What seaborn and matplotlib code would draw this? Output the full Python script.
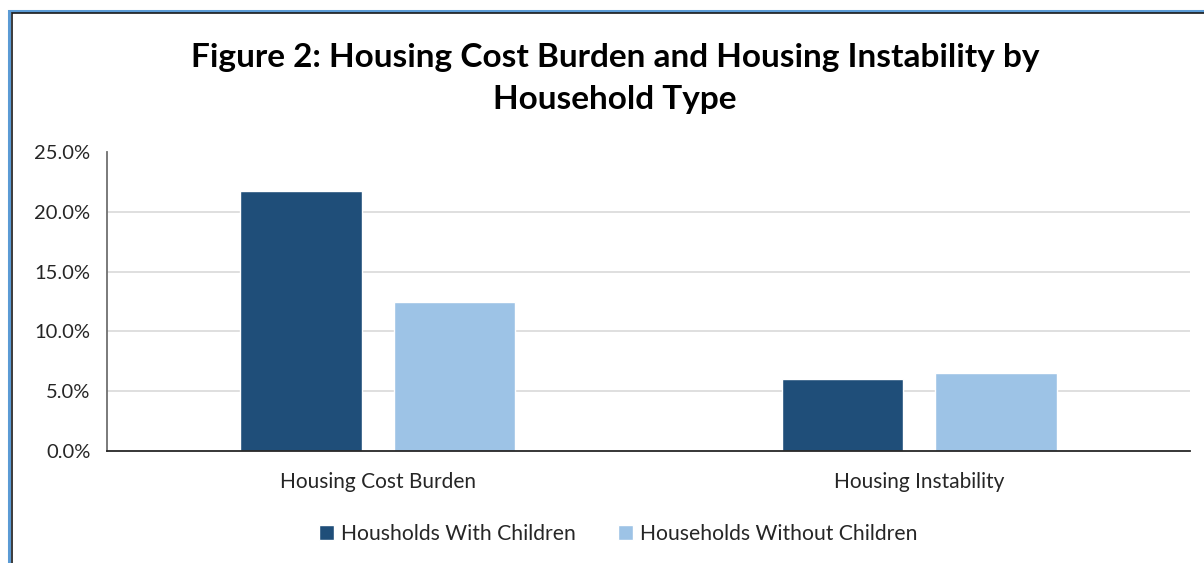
import matplotlib
matplotlib.use("Agg")
import matplotlib.pyplot as plt
import matplotlib.patches as mpatches
import matplotlib.ticker as mticker
import seaborn as sns
import pandas as pd

categories = ["Housing Cost Burden", "Housing Instability"]
series_names = ["Housholds With Children", "Households Without Children"]
with_children = [21.7, 6.0]
without_children = [12.5, 6.55]
colors = ["#1F4E79", "#9DC3E6"]
yticks = [0, 5, 10, 15, 20, 25]

df = pd.DataFrame({
    "category": categories * 2,
    "series": [series_names[0]] * 2 + [series_names[1]] * 2,
    "value": with_children + without_children,
})

sns.set_theme(style="white")
plt.rcParams['font.family'] = ['Lato', 'DejaVu Sans']

fig = plt.figure(figsize=(12.04, 5.63), dpi=100)
ax = fig.add_axes([107/1204, 1-451/563, (1190-107)/1204, (451-152)/563])

sns.barplot(data=df, x="category", y="value", hue="series", palette=colors,
            width=0.568, gap=0.21, ax=ax, saturation=1, legend=True)

ax.set_xlim(-0.5, 1.5)
ax.set_ylim(0, 25)
ax.set_yticks(yticks)
ax.yaxis.set_major_formatter(mticker.FuncFormatter(lambda v, p: f"{v:.1f}%"))
for y in yticks[1:-1]:
    ax.axhline(y, color="#D9D9D9", lw=1.2, zorder=0)
ax.set_axisbelow(True)
ax.set_xlabel("")
ax.set_ylabel("")
ax.tick_params(axis="y", length=0, labelsize=14.5, colors="#262626", pad=12)
ax.tick_params(axis="x", length=0, labelsize=15, colors="#262626", pad=15)
for s in ["top", "right"]:
    ax.spines[s].set_visible(False)
ax.spines["left"].set_color("#6f6f6f")
ax.spines["left"].set_linewidth(1.3)
ax.spines["bottom"].set_color("#262626")
ax.spines["bottom"].set_linewidth(1.3)

leg = ax.legend(loc="center", bbox_to_anchor=(0.5 - 30/1083, -(534-451)/(451-152)), ncol=2,
                frameon=False, fontsize=15.2, handlelength=0.7, handleheight=0.7,
                handletextpad=0.35, columnspacing=2.0, bbox_transform=ax.transAxes)
for t in leg.get_texts():
    t.set_color("#262626")

fig.text(615/1204, 1-57/563, "Figure 2: Housing Cost Burden and Housing Instability by",
         ha="center", va="center", fontsize=24, fontweight="bold", color="black")
fig.text(615/1204, 1-100/563, "Household Type",
         ha="center", va="center", fontsize=24, fontweight="bold", color="black")

# frame border
fig.patches.append(mpatches.Rectangle((9/1204, -0.1), 1.2, 1 - 11/563 + 0.1,
                   transform=fig.transFigure, fill=False, edgecolor="#5B9BD5", lw=2.2))
fig.patches.append(mpatches.Rectangle((12/1204, -0.1), 1.2, 1 - 13.5/563 + 0.1,
                   transform=fig.transFigure, fill=False, edgecolor="#1a1a1a", lw=1.2))

fig.savefig("out.png", dpi=100, facecolor="white")
